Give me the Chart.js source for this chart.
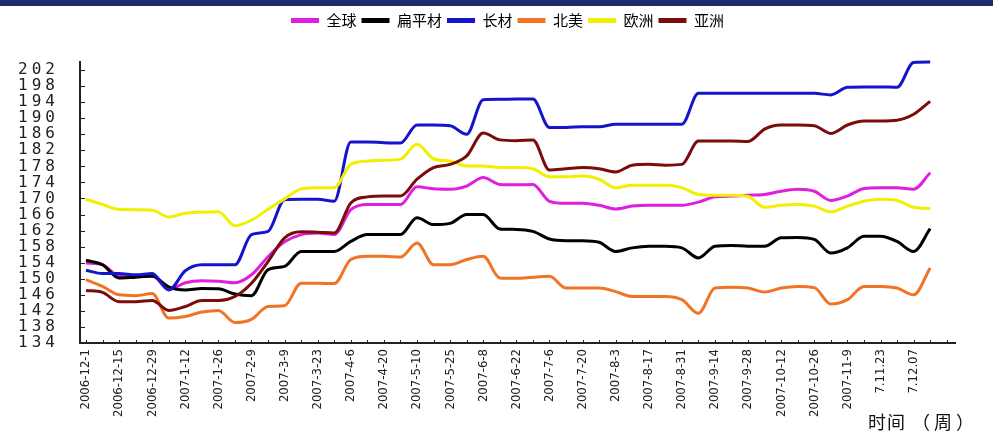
<!DOCTYPE html>
<html lang="zh-CN">
<head>
<meta charset="utf-8">
<title>钢材价格指数</title>
<script src="https://cdn.jsdelivr.net/npm/chart.js@4.4.1/dist/chart.umd.min.js"></script>
<style>
  html, body { margin: 0; padding: 0; background: #fff; }
  #wrap { position: relative; width: 993px; height: 431px; overflow: hidden; }
  #topbar { position: absolute; left: 0; top: 0; width: 993px; height: 6px; background: #1f2b6e; }
  canvas { position: absolute; left: 0; top: 0; }
</style>
</head>
<body>
<div id="wrap">
  <canvas id="priceChart" width="993" height="431"></canvas>
  <div id="topbar"></div>
</div>
<script>
// 每周一个数据点，横轴每两周标一个日期
const weekLabels = [
  '2006-12-1', '2006-12-15', '2006-12-29', '2007-1-12', '2007-1-26', '2007-2-9',
  '2007-3-9', '2007-3-23', '2007-4-6', '2007-4-20', '2007-5-10', '2007-5-25',
  '2007-6-8', '2007-6-22', '2007-7-6', '2007-7-20', '2007-8-3', '2007-8-17',
  '2007-8-31', '2007-9-14', '2007-9-28', '2007-10-12', '2007-10-26', '2007-11-9',
  '7.11.23', '7.12.07'
];

const yTicks = [134, 138, 142, 146, 150, 154, 158, 162, 166, 170, 174, 178, 182, 186, 190, 194, 198, 202];

const seriesNames = ['全球', '扁平材', '长材', '北美', '欧洲', '亚洲'];
const seriesColors = ['#e01ee0', '#000000', '#1414cc', '#f07424', '#f0f000', '#7a0c0c'];

const globalIdx = [
  153.9, 153.5, 150.8, 150.8, 150.8, 147.3, 149.0, 149.5, 149.4, 149.0,
  151.0, 155.5, 159.2, 161.0, 161.4, 161.0, 167.2, 168.5, 168.5, 168.5,
  172.9, 172.4, 172.3, 173.1, 175.2, 173.5, 173.4, 173.5, 169.3, 168.8,
  168.8, 168.3, 167.4, 168.1, 168.3, 168.3, 168.3, 169.1, 170.4, 170.6,
  170.8, 171.0, 171.8, 172.3, 171.8, 169.5, 170.6, 172.5, 172.7, 172.7,
  172.3, 176.4
];
const flatIdx = [
  154.6, 153.5, 150.2, 150.4, 150.6, 148.0, 147.2, 147.6, 147.5, 146.2,
  145.8, 152.3, 153.1, 156.8, 156.8, 156.8, 159.3, 161.0, 161.0, 161.0,
  165.2, 163.5, 163.8, 166.0, 166.0, 162.4, 162.3, 161.8, 159.9, 159.5,
  159.5, 159.1, 156.8, 157.7, 158.1, 158.1, 157.7, 155.2, 158.1, 158.3,
  158.1, 158.1, 160.2, 160.3, 159.8, 156.4, 157.7, 160.6, 160.6, 159.3,
  156.8, 162.5
];
const longIdx = [
  152.1, 151.3, 151.3, 151.0, 151.3, 147.2, 152.0, 153.5, 153.5, 153.5,
  161.0, 161.8, 169.7, 169.8, 169.8, 169.3, 184.1, 184.1, 183.9, 183.8,
  188.3, 188.3, 188.1, 186.0, 194.6, 194.7, 194.8, 194.8, 187.7, 187.7,
  187.9, 187.9, 188.5, 188.5, 188.5, 188.5, 188.5, 196.2, 196.2, 196.2,
  196.2, 196.2, 196.2, 196.2, 196.2, 195.8, 197.7, 197.8, 197.8, 197.7,
  203.9, 204.0
];
const northAmericaIdx = [
  149.8, 148.1, 146.0, 145.8, 146.3, 140.2, 140.6, 141.7, 142.1, 139.1,
  139.9, 143.1, 143.3, 148.9, 148.9, 148.8, 154.8, 155.6, 155.6, 155.4,
  158.9, 153.5, 153.5, 154.8, 155.6, 150.2, 150.1, 150.4, 150.6, 147.7,
  147.7, 147.7, 146.8, 145.6, 145.6, 145.6, 144.8, 141.4, 147.7, 147.9,
  147.7, 146.7, 147.7, 148.1, 147.8, 143.7, 144.8, 148.1, 148.1, 147.7,
  146.0, 152.7
];
const europeIdx = [
  169.8, 168.5, 167.3, 167.2, 167.1, 165.4, 166.3, 166.6, 166.7, 163.2,
  164.6, 167.3, 169.9, 172.4, 172.7, 172.7, 178.5, 179.3, 179.5, 179.8,
  183.5, 179.9, 179.3, 178.1, 178.1, 177.7, 177.7, 177.4, 175.4, 175.4,
  175.6, 174.8, 172.7, 173.3, 173.3, 173.3, 172.7, 171.0, 170.8, 170.8,
  170.5, 167.8, 168.3, 168.5, 168.1, 166.7, 168.1, 169.3, 169.8, 169.5,
  167.8, 167.5
];
const asiaIdx = [
  147.1, 146.6, 144.3, 144.3, 144.6, 142.1, 143.1, 144.6, 144.6, 145.6,
  148.9, 154.3, 160.2, 161.7, 161.6, 161.4, 168.9, 170.4, 170.6, 170.6,
  174.8, 177.7, 178.5, 180.6, 186.3, 184.6, 184.4, 184.6, 177.1, 177.4,
  177.7, 177.4, 176.6, 178.3, 178.5, 178.3, 178.5, 184.3, 184.3, 184.3,
  184.2, 187.3, 188.3, 188.3, 188.1, 186.2, 188.3, 189.3, 189.3, 189.5,
  191.0, 194.2
];

const allSeries = [globalIdx, flatIdx, longIdx, northAmericaIdx, europeIdx, asiaIdx];
const weekCount = globalIdx.length;

const datasets = allSeries.map((values, k) => ({
  label: seriesNames[k],
  data: values.map((v, i) => ({ x: i, y: v })),
  borderColor: seriesColors[k],
  backgroundColor: seriesColors[k],
  borderWidth: 3,
  pointRadius: 0,
  cubicInterpolationMode: 'monotone',
  clip: false,
  order: allSeries.length - k  // 后面的系列画在上层
}));

// 图例往右挪一点，并和绘图区之间留出空白
const legendGap = {
  id: 'legendGap',
  beforeInit(chart) {
    const fit = chart.legend.fit;
    chart.legend.fit = function () {
      fit.call(this);
      this.height += 24;
    };
  },
  afterLayout(chart) {
    chart.legend.left = 60;
  }
};

// 纵轴刻度数字加字距
const spacedYLabels = {
  id: 'spacedYLabels',
  beforeDraw(chart) {
    const ys = chart.scales.y;
    if (ys._spaced) return;
    const orig = ys.drawLabels.bind(ys);
    ys.drawLabels = function (area) {
      chart.ctx.save();
      chart.ctx.letterSpacing = '4px';
      orig(area);
      chart.ctx.restore();
    };
    ys._spaced = true;
  }
};

// 朝内的小刻度线和横轴标题
const innerTicks = {
  id: 'innerTicks',
  afterDraw(chart) {
    const { ctx, chartArea, scales } = chart;
    ctx.save();
    ctx.strokeStyle = '#222';
    ctx.lineWidth = 1;
    ctx.beginPath();
    yTicks.forEach(v => {
      const y = Math.round(scales.y.getPixelForValue(v)) + 0.5;
      ctx.moveTo(chartArea.left, y);
      ctx.lineTo(chartArea.left + 5, y);
    });
    for (let i = 0; i <= weekCount; i++) {
      const x = Math.round(scales.x.getPixelForValue(i)) + 0.5;
      ctx.moveTo(x, chartArea.bottom);
      ctx.lineTo(x, chartArea.bottom - 3);
    }
    ctx.stroke();

    ctx.fillStyle = '#111';
    ctx.font = '18px "Noto Sans CJK SC", sans-serif';
    ctx.textBaseline = 'middle';
    ctx.textAlign = 'left';
    const tx = chartArea.right - 87;
    ctx.letterSpacing = '1px';
    ctx.fillText('时间', tx, 422);
    ctx.letterSpacing = '4px';
    ctx.fillText('（周）', tx + 44, 422);
    ctx.restore();
  }
};

new Chart(document.getElementById('priceChart'), {
  type: 'line',
  data: { datasets },
  options: {
    responsive: false,
    animation: false,
    devicePixelRatio: 1,
    layout: { padding: { left: 0, right: 38, top: 8, bottom: 0 } },
    plugins: {
      legend: {
        position: 'top',
        labels: {
          boxWidth: 28,
          boxHeight: 5,
          padding: 5,
          color: '#000',
          font: { family: '"Noto Sans CJK SC", sans-serif', size: 15 },
          sort: (a, b) => a.datasetIndex - b.datasetIndex,
          generateLabels(chart) {
            return Chart.defaults.plugins.legend.labels.generateLabels(chart).map(item => {
              item.fillStyle = seriesColors[item.datasetIndex];
              item.lineWidth = 0;
              return item;
            });
          }
        }
      },
      tooltip: { enabled: false }
    },
    scales: {
      x: {
        type: 'linear',
        min: -0.36,
        max: 52.5,
        afterBuildTicks(scale) {
          scale.ticks = [];
          for (let i = 0; i <= weekCount; i++) scale.ticks.push({ value: i });
        },
        afterFit(scale) { scale.height = 88; },
        grid: { display: false, drawTicks: false },
        border: { display: true, color: '#222', width: 2 },
        ticks: {
          autoSkip: false,
          minRotation: 90,
          maxRotation: 90,
          padding: 6,
          color: '#222',
          font: { family: '"Liberation Sans Narrow", "DejaVu Sans Condensed", sans-serif', size: 13 },
          callback: value => (value % 2 === 0 ? (weekLabels[value / 2] || '') : '')
        }
      },
      y: {
        min: 134,
        max: 204,
        afterBuildTicks(scale) {
          scale.ticks = yTicks.map(v => ({ value: v }));
        },
        afterFit(scale) { scale.width = 80; },
        grid: { display: false, drawTicks: false },
        border: { display: true, color: '#222', width: 2 },
        ticks: {
          autoSkip: false,
          padding: 21,
          color: '#222',
          font: { family: '"DejaVu Sans Mono", monospace', size: 16 }
        }
      }
    }
  },
  plugins: [legendGap, spacedYLabels, innerTicks]
});
</script>
</body>
</html>
